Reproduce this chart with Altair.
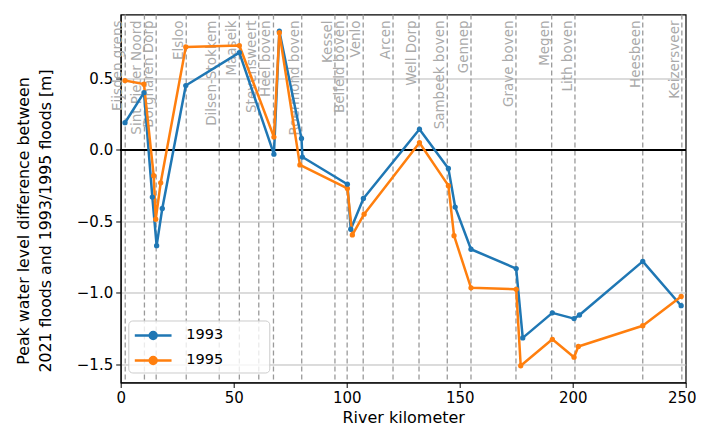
import altair as alt
import pandas as pd

years = ["1993", "1995"]
colors = ["#1f77b4", "#ff7f0e"]

km_1993 = [1.9, 10.3, 14.0, 15.9, 18.4, 28.8, 52.5, 67.8, 70.2, 80.0, 80.4, 100.3, 101.8,
           107.4, 132.2, 145.0, 148.0, 155.0, 175.0, 177.9, 191.0, 200.6, 203.0, 231.0, 248.0]
dh_1993 = [0.19, 0.40, -0.33, -0.67, -0.41, 0.45, 0.68, -0.03, 0.83, 0.08, -0.05, -0.24, -0.555,
           -0.34, 0.145, -0.13, -0.40, -0.695, -0.83, -1.315, -1.14, -1.18, -1.155, -0.78, -1.09]

km_1995 = [1.9, 10.3, 14.6, 15.5, 17.7, 28.8, 52.5, 67.8, 70.2, 79.3, 100.3, 102.5,
           107.7, 132.2, 145.0, 147.5, 155.0, 175.0, 177.0, 191.0, 200.6, 202.5, 231.0, 248.0]
dh_1995 = [0.485, 0.46, -0.18, -0.485, -0.23, 0.72, 0.73, 0.09, 0.82, -0.105, -0.27, -0.595,
           -0.45, 0.05, -0.25, -0.60, -0.965, -0.975, -1.51, -1.325, -1.45, -1.375, -1.23, -1.025]

station_names = ["Eijsden grens", "Sint Pieter Noord", "Borgharen Dorp", "Elsloo",
                 "Dilsen-Stokkem", "Maaseik", "Stevensweert", "Heel boven", "Roermond boven",
                 "Kessel", "Belfeld boven", "Venlo", "Arcen", "Well Dorp", "Sambeek boven",
                 "Gennep", "Grave boven", "Megen", "Lith boven", "Heesbeen", "Keizersveer"]
station_km = [2.0, 10.5, 15.7, 29.0, 43.6, 52.5, 61.1, 67.6, 80.1, 94.8, 100.2, 107.3,
              120.5, 132.0, 144.5, 155.0, 174.9, 190.7, 201.0, 231.0, 248.3]

x_ticks = [0, 50, 100, 150, 200, 250]
y_ticks = [0.5, 0.0, -0.5, -1.0, -1.5]
x_domain = [0, 250]
y_domain = [-1.627, 0.947]

rows = []
for i, (k, v) in enumerate(zip(km_1993, dh_1993)):
    rows.append({"km": k, "dh": v, "year": "1993", "idx": i})
for i, (k, v) in enumerate(zip(km_1995, dh_1995)):
    rows.append({"km": k, "dh": v, "year": "1995", "idx": i})
df = pd.DataFrame(rows)
stations = pd.DataFrame({"name": station_names, "km": station_km})

FONT = "DejaVu Sans"
xscale = alt.Scale(domain=x_domain, nice=False, zero=False)
yscale = alt.Scale(domain=y_domain, nice=False, zero=False)

x_axis = alt.Axis(values=x_ticks, format="d", title="River kilometer", grid=False,
                  tickSize=5, tickColor="black", domainColor="black", labelColor="black",
                  labelFontSize=15, labelFont=FONT, labelPadding=3, titleFont=FONT,
                  titleFontSize=16, titleFontWeight="normal", titleColor="black",
                  titlePadding=4, labelFlush=False,
                  labelOffset=alt.expr("datum.value == 250 ? -4 : 0"))
y_axis = alt.Axis(values=y_ticks, format=".1f",
                  title=["Peak water level difference between",
                         "2021 floods and 1993/1995 floods [m]"],
                  grid=True, gridColor="#b8b8b8", gridWidth=1,
                  tickSize=5, tickColor="black", domainColor="black", labelColor="black",
                  labelFontSize=15, labelFont=FONT, labelPadding=3, titleFont=FONT,
                  titleFontSize=15.8, titleFontWeight="normal", titleColor="black",
                  titleLineHeight=22, titleX=-104, titleY=206, titleBaseline="top",
                  titleAlign="center", titleAngle=270, labelFlush=False)

station_rules = alt.Chart(stations).mark_rule(
    color="#9a9a9a", strokeDash=[5, 3], strokeWidth=1.3
).encode(x=alt.X("km:Q", scale=xscale, axis=x_axis))

zero_rule = alt.Chart(stations).mark_rule(color="black", strokeWidth=1.9).encode(
    y=alt.datum(0, scale=yscale, axis=y_axis)
)

station_text = alt.Chart(stations).mark_text(
    angle=270, align="right", baseline="bottom", font=FONT, fontSize=13.5,
    color="#aaaaaa"
).encode(x=alt.X("km:Q", scale=xscale), y=alt.value(6), text="name:N")

legend_path = ("M-0.81,0L2.69,0M0.61,0A0.33,0.33,0,1,1,1.27,0"
               "A0.33,0.33,0,1,1,0.61,0Z")
pad = "\u2800" * 4
legend = alt.Legend(
    orient="none", legendX=7.6, legendY=306, title=None,
    symbolType=legend_path, symbolSize=441, symbolStrokeWidth=2.5, symbolOpacity=1,
    labelFont=FONT, labelFontSize=14.5, labelColor="black", labelOffset=31,
    rowPadding=4, padding=3, strokeColor="#cccccc", fillColor="rgba(255,255,255,0.8)",
    cornerRadius=4, labelExpr="datum.label + '" + pad + "'",
)

lines = alt.Chart(df).mark_line(
    strokeWidth=2.5, strokeJoin="round",
    point=alt.OverlayMarkDef(filled=True, size=28, opacity=1)
).encode(
    x=alt.X("km:Q", scale=xscale),
    y=alt.Y("dh:Q", scale=yscale),
    color=alt.Color("year:N", scale=alt.Scale(domain=years, range=colors), legend=legend),
    order=alt.Order("idx:Q"),
)

chart = alt.layer(station_rules, zero_rule, station_text, lines).properties(
    width=565, height=368,
    autosize=alt.AutoSizeParams(type="none"),
    padding={"left": 112.7, "top": 6.5, "right": 10.2, "bottom": 50},
).configure_view(stroke="black", strokeWidth=1.2)

chart.save("out.html", embed_options={"renderer": "svg", "actions": False})
